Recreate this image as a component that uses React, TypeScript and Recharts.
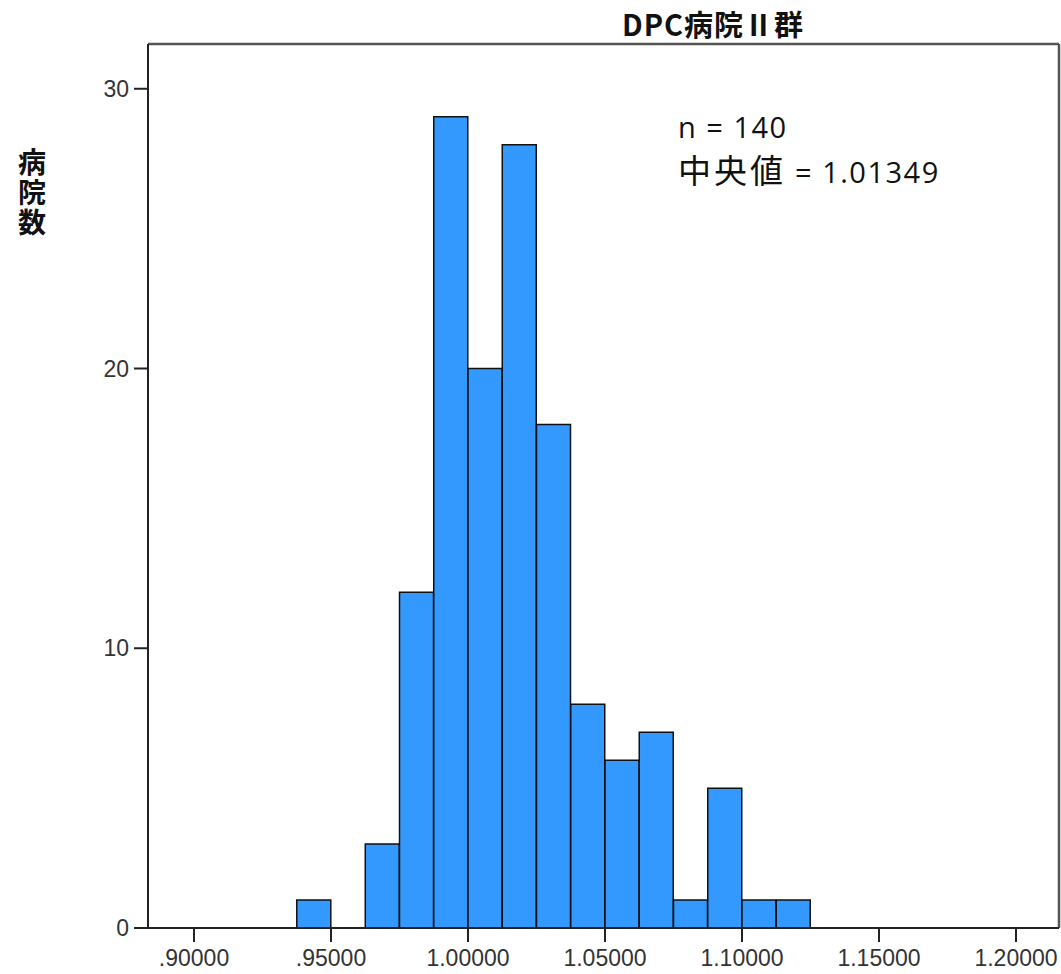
import { Bar, BarChart, ReferenceLine, XAxis, YAxis } from "recharts";

const binCenters = [
  0.94375, 0.95625, 0.96875, 0.98125, 0.99375, 1.00625, 1.01875, 1.03125, 1.04375, 1.05625,
  1.06875, 1.08125, 1.09375, 1.10625, 1.11875,
];
const counts = [1, 0, 3, 12, 29, 20, 28, 18, 8, 6, 7, 1, 5, 1, 1];
const xTicks = [0.9, 0.95, 1.0, 1.05, 1.1, 1.15, 1.2];
const yTicks = [0, 10, 20, 30];
const xDomain: [number, number] = [0.8832, 1.2157];
const yDomain: [number, number] = [0, 31.6];

const data = binCenters.map((mid, i) => ({ mid, count: counts[i] }));

const fmtX = (v: number) => {
  const s = v.toFixed(5);
  return s.startsWith("0") ? s.slice(1) : s;
};

const tickStyle = { fontFamily: "'Liberation Sans', Arial, sans-serif", fontSize: 23, fill: "#333" };

export default function App() {
  return (
    <div style={{ position: "absolute", left: 0, top: 0, width: 1061, height: 974, background: "#fff" }}>
      <BarChart
        width={1061}
        height={974}
        data={data}
        margin={{ top: 44, right: 2, left: 0, bottom: 0 }}
        barCategoryGap={0}
        barGap={0}
      >
        <XAxis
          type="number"
          dataKey="mid"
          domain={xDomain}
          allowDataOverflow
          ticks={xTicks}
          tickFormatter={fmtX}
          height={46}
          tickSize={14}
          tickMargin={8}
          tick={tickStyle}
          stroke="#222"
          strokeWidth={2}
        />
        <YAxis
          type="number"
          domain={yDomain}
          allowDataOverflow
          ticks={yTicks}
          width={148}
          tickSize={14}
          tickMargin={5}
          tick={tickStyle}
          stroke="#222"
          strokeWidth={2}
        />
        <ReferenceLine y={yDomain[1]} stroke="#555" strokeWidth={2.5} />
        <ReferenceLine x={xDomain[1]} stroke="#555" strokeWidth={2.5} />
        <Bar dataKey="count" fill="#3399ff" stroke="#111" strokeWidth={1.5} isAnimationActive={false} />
      </BarChart>
      <div
        style={{
          position: "absolute",
          left: 560,
          width: 306,
          top: 4,
          textAlign: "center",
          fontFamily: "'Noto Sans CJK JP', sans-serif",
          fontWeight: 700,
          fontSize: 29,
          lineHeight: "38px",
          color: "#111",
          letterSpacing: 1,
        }}
      >
        DPC病院Ⅱ群
      </div>
      <div
        style={{
          position: "absolute",
          left: 12,
          top: 148,
          height: 100,
          writingMode: "vertical-rl",
          fontFamily: "'Noto Sans CJK JP', sans-serif",
          fontWeight: 700,
          fontSize: 28,
          lineHeight: "40px",
          letterSpacing: 2,
          color: "#111",
        }}
      >
        病院数
      </div>
      <div
        style={{
          position: "absolute",
          left: 678,
          top: 106,
          fontFamily: "'Open Sans', sans-serif",
          fontSize: 29,
          letterSpacing: 1.5,
          lineHeight: "42px",
          color: "#111",
          whiteSpace: "nowrap",
        }}
      >
        <div>n = 140</div>
        <div>
          <span style={{ fontFamily: "'Noto Sans CJK JP', sans-serif", fontSize: 33, letterSpacing: 3 }}>中央値</span> = 1.01349
        </div>
      </div>
    </div>
  );
}
